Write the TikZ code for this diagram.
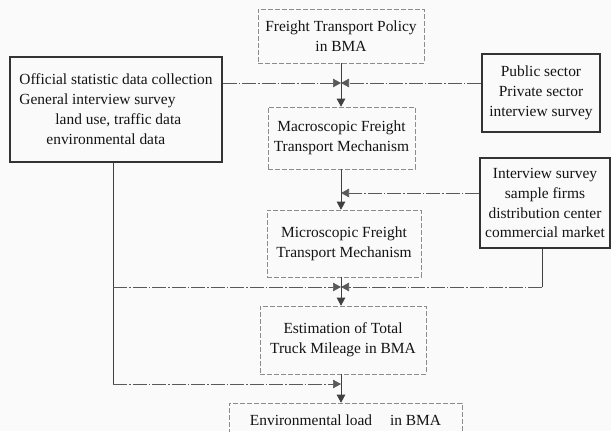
\documentclass[tikz,border=0pt]{standalone}
\usepackage{fontspec}
\setmainfont{Liberation Serif}
\usetikzlibrary{arrows.meta,calc}
\begin{document}
\begin{tikzpicture}[x=1bp,y=-1bp,
  txt/.style={font=\fontsize{15.5}{20}\selectfont, text=black!92, align=center, inner sep=0pt},
  cbox/.style={txt, draw=black!45, dash pattern=on 5bp off 2bp, line width=0.6bp},
  sbox/.style={txt, draw=black!80, line width=1.3bp},
  dd/.style={draw=black!65, line width=0.6bp, dash pattern=on 14bp off 2bp on 1.5bp off 2bp},
  ln/.style={draw=black!75, line width=0.6bp},
  tip/.style={-{Triangle[length=8bp,width=8.5bp]}}]
\fill[black!2] (0,0) rectangle (611,431);
\useasboundingbox (0,0) rectangle (611,431);
\clip (0,0) rectangle (611,431);

\node[cbox, minimum width=166bp, minimum height=54bp] (policy) at (341,36) {Freight Transport Policy\\in BMA};
\node[cbox, minimum width=147bp, minimum height=62bp] (macro) at (341.5,138) {Macroscopic Freight\\Transport Mechanism};
\node[cbox, minimum width=154bp, minimum height=67bp] (micro) at (344,243.5) {Microscopic Freight\\Transport Mechanism};
\node[cbox, minimum width=166bp, minimum height=68bp] (est) at (343,340) {Estimation of Total\\Truck Mileage in BMA};
\node[cbox, minimum width=233bp, minimum height=54bp] (env) at (345.5,430) {Environmental load\hspace{14bp} in BMA\\\mbox{}};

\node[sbox, align=left, minimum width=212bp, minimum height=105bp] (left) at (116,109.5)
  {Official statistic data collection\\General interview survey\\\hspace*{36bp}land use, traffic data\\\hspace*{27bp}environmental data};
\node[sbox, minimum width=118bp, minimum height=78bp] (public) at (541,93) {Public sector\\Private sector\\interview survey};
\node[sbox, minimum width=130bp, minimum height=90bp] (inter) at (545,203) {Interview survey\\sample firms\\distribution center\\commercial market};

\coordinate (j1) at (341,83);
\coordinate (j2) at (341,193);
\coordinate (j3) at (341,287);
\coordinate (j4) at (341,384);
\coordinate (lx) at ($(left.south)+(-3,0)$);
\coordinate (rx) at ($(inter.south)+(-3,0)$);

\draw[ln,tip] (policy.south -| j1) -- (macro.north -| j1);
\draw[ln,tip] (macro.south -| j1) -- (micro.north -| j1);
\draw[ln,tip] (micro.south -| j1) -- (est.north -| j1);
\draw[ln,tip] (est.south -| j1) -- (env.north -| j1);

\draw[dd,tip] (j1 -| left.east) -- (j1);
\draw[dd,tip] (j1 -| public.west) -- (j1);
\draw[dd,tip] (j2 -| inter.west) -- (j2);

\draw[ln] (lx) -- (lx |- j4);
\draw[ln] (rx) -- (rx |- j3);
\draw[dd,tip] (lx |- j3) -- (j3);
\draw[dd,tip] (rx |- j3) -- (j3);
\draw[dd,tip] (lx |- j4) -- (j4);
\end{tikzpicture}
\end{document}
